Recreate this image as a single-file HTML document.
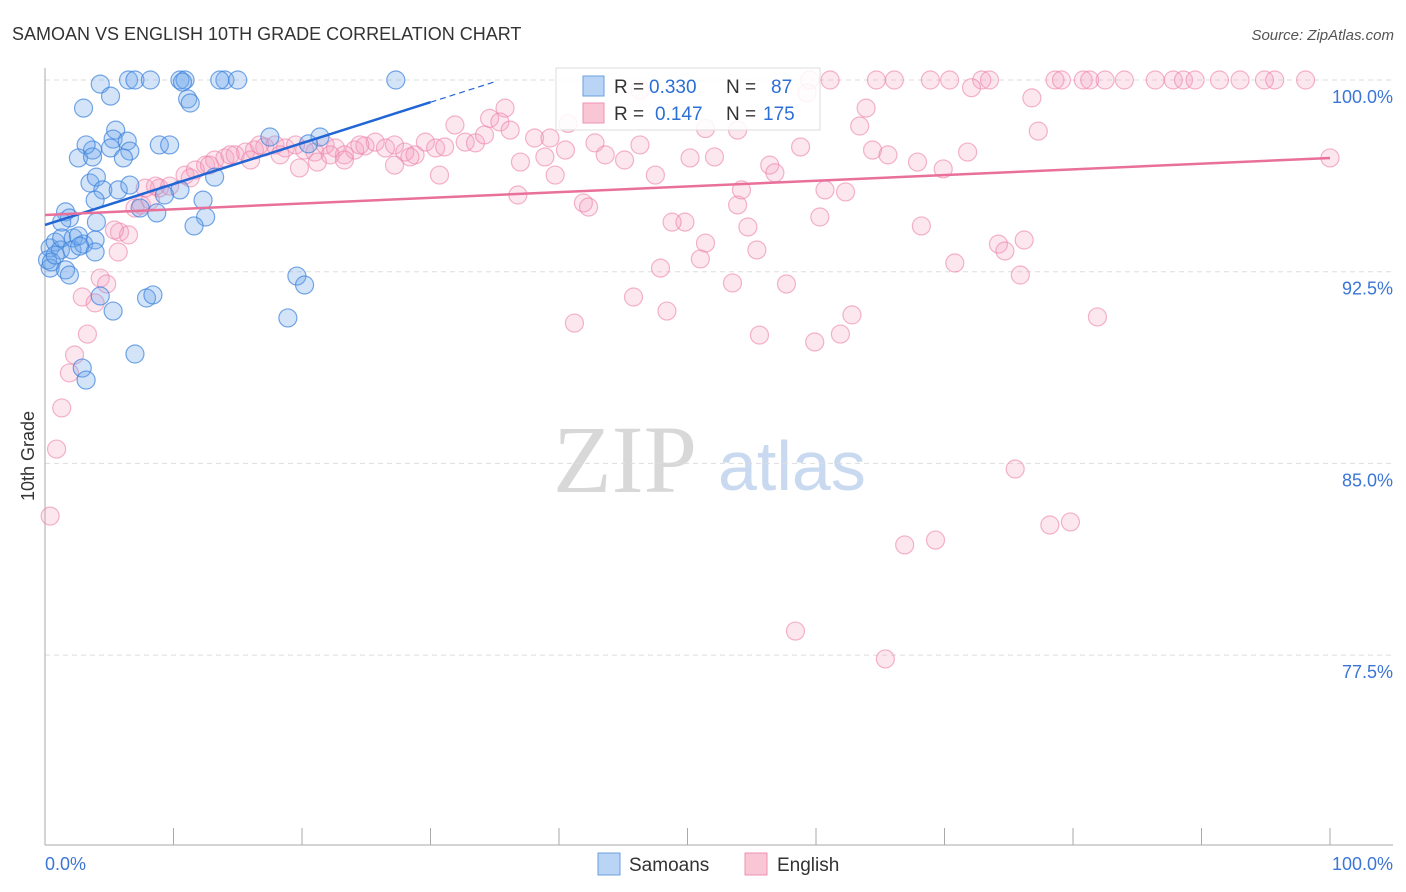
<!DOCTYPE html>
<html><head><meta charset="utf-8">
<style>
body{margin:0;background:#fff;font-family:"Liberation Sans",sans-serif;}
svg{display:block}
</style></head>
<body>
<svg id="chart" width="1406" height="892" xmlns="http://www.w3.org/2000/svg">
<text x="12" y="40" font-size="18" fill="#333">SAMOAN VS ENGLISH 10TH GRADE CORRELATION CHART</text>
<text x="1394" y="40" font-size="15" fill="#555" text-anchor="end" font-style="italic">Source: ZipAtlas.com</text>
<g>
<text x="553" y="492" font-size="96" font-family="Liberation Serif,serif" fill="#d8d8d8">ZIP</text>
<text x="718" y="490" font-size="70" fill="#c9daf0">atlas</text>
</g>
<g id="grid"></g>
<g id="axes"></g>
<g id="points"></g>
<g id="trends"></g>
<g>
<rect x="556" y="68" width="264" height="62" fill="#fff" fill-opacity="0.85" stroke="#ddd"/>
<rect x="583" y="76" width="21" height="20" fill="#b9d4f5" stroke="#6a9fe0"/>
<g font-size="19">
<text x="614" y="93" fill="#333">R =</text>
<text x="649" y="93" fill="#2c6fd6">0.330</text>
<text x="726" y="93" fill="#333">N =</text>
<text x="771" y="93" fill="#2c6fd6">87</text>
</g>
<rect x="583" y="103" width="21" height="20" fill="#f9c6d6" stroke="#ee93b2"/>
<g font-size="19">
<text x="614" y="120" fill="#333">R =</text>
<text x="655" y="120" fill="#2c6fd6">0.147</text>
<text x="726" y="120" fill="#333">N =</text>
<text x="763" y="120" fill="#2c6fd6">175</text>
</g>
</g>
<g>
<rect x="598" y="853" width="22" height="22" fill="#b9d4f5" stroke="#6a9fe0"/>
<text x="629" y="871" font-size="19" fill="#333">Samoans</text>
<rect x="745" y="853" width="22" height="22" fill="#f9c6d6" stroke="#ee93b2"/>
<text x="777" y="871" font-size="19" fill="#333">English</text>
</g>
<text x="34" y="456" font-size="18" fill="#333" transform="rotate(-90 34 456)" text-anchor="middle">10th Grade</text>
</svg>
<script>
const yTicks=[100,92.5,85,77.5];
const yTickLabels=["100.0%","92.5%","85.0%","77.5%"];
const xTickLabels=["0.0%","100.0%"];
const samoanX=[4.3,6.5,7.0,8.2,10.5,10.9,14.0,15.0,27.3,3.0,5.1,11.1,11.3,5.5,5.3,6.4,5.1,6.6,3.7,3.2,2.6,3.7,6.1,8.9,9.7,17.5,21.4,20.5,3.5,4.0,4.5,5.7,6.6,3.9,7.4,12.3,10.5,9.3,13.2,1.6,1.9,1.3,4.0,12.5,11.6,8.7,0.4,0.8,1.2,1.3,2.2,2.1,3.0,3.9,2.6,0.2,0.4,0.5,0.8,1.6,1.9,2.7,3.9,4.3,5.3,7.9,8.4,7.0,2.9,3.2,19.6,20.2,18.9,13.6,10.7];
const samoanY=[99.84,100,100,100,100,100,100,100,100,98.9,99.37,99.26,99.1,98.04,97.69,97.61,97.34,97.22,97.26,97.46,96.95,96.99,96.95,97.46,97.46,97.77,97.77,97.5,95.97,96.2,95.7,95.7,95.89,95.3,94.99,95.3,95.7,95.5,96.2,94.84,94.6,94.44,94.44,94.64,94.29,94.8,93.43,93.66,93.35,93.82,93.82,93.35,93.58,93.74,93.9,92.96,92.64,92.88,93.15,92.57,92.37,93.5,93.27,91.55,90.96,91.47,91.59,89.28,88.73,88.26,92.33,91.98,90.69,100,99.92];
const englishX=[59.5,61.1,64.7,66.1,68.9,70.4,72.9,73.5,78.6,79.1,80.8,81.3,82.5,84.0,86.4,87.8,88.6,89.5,91.4,93.0,94.9,95.7,98.1,59.3,72.1,76.8,63.9,46.3,63.4,77.3,51.4,40.7,34.6,35.8,
8.9,9.7,10.9,11.7,12.5,13.2,14.0,14.8,15.6,16.3,17.1,17.9,18.7,19.5,20.2,21.0,21.8,22.6,23.3,24.1,24.9,25.7,26.5,27.2,28.0,28.8,29.6,30.4,31.1,31.9,32.7,33.5,34.2,35.4,36.2,37.0,38.1,38.9,39.3,39.7,40.5,42.8,43.6,45.1,46.3,47.5,50.2,52.1,53.9,56.4,56.8,58.8,60.7,62.3,64.4,65.6,67.9,69.9,71.8,19.8,21.2,11.3,12.8,14.4,16.0,16.7,18.3,22.2,23.3,24.5,27.2,28.4,30.7,36.8,41.9,42.3,49.8,51.4,53.9,54.2,54.7,55.4,48.8,60.3,68.2,74.2,74.7,76.2,47.9,51.0,53.5,57.7,45.8,48.4,62.8,41.2,55.6,59.9,61.9,70.8,75.9,81.9,100,
7.0,7.5,8.2,5.8,6.5,5.7,4.3,4.8,2.9,3.9,3.3,2.3,1.9,1.3,0.9,0.4,7.8,8.6,5.4,75.5,78.2,79.8,66.9,69.3,58.4,65.4];
const englishY=[100,100,100,100,100,100,100,100,100,100,100,100,100,100,100,100,100,100,100,100,100,100,100,99.5,99.7,99.3,98.9,99.6,98.2,98.0,98.1,98.3,98.5,98.9,
95.77,95.85,96.28,96.48,96.67,96.87,96.95,97.07,97.18,97.26,97.38,97.46,97.34,97.46,97.26,97.18,97.46,97.34,97.07,97.26,97.42,97.57,97.34,97.46,97.18,97.07,97.57,97.34,97.38,98.24,97.57,97.54,97.85,98.36,98.04,96.79,97.73,96.99,97.73,96.28,97.26,97.54,97.07,96.87,97.46,96.28,96.95,96.99,98.04,96.67,96.37,97.38,95.7,95.62,97.26,97.07,96.79,96.52,97.18,96.56,96.79,96.17,96.67,97.07,96.87,97.46,97.07,97.07,96.87,97.46,96.67,96.99,96.28,95.5,95.19,95.03,94.44,93.62,95.11,95.7,94.25,93.35,94.44,94.64,94.29,93.58,93.31,93.74,92.64,93.0,92.06,92.02,91.51,90.96,90.81,90.49,90.02,89.75,90.06,92.84,92.37,90.73,96.95,
94.99,95.11,95.3,94.05,93.94,93.27,92.25,92.02,91.51,91.28,90.06,89.24,88.54,87.17,85.56,82.94,95.77,95.85,94.13,84.78,82.59,82.71,81.81,82.0,78.44,77.35];
const samoanTrend=[94.33,0.16,0,30,35];
const englishTrend=[94.72,0.0223,0,100];
const L=45,R=1330,T=80,B=845;
const ymin=70.07,ymax=100;
const sx=v=>L+(v/100)*(R-L);
const sy=v=>T+(ymax-v)/(ymax-ymin)*(B-T);
const NS="http://www.w3.org/2000/svg";
function mk(tag,attrs,parent){const e=document.createElementNS(NS,tag);for(const k in attrs)e.setAttribute(k,attrs[k]);parent.appendChild(e);return e;}
const grid=document.getElementById('grid'),axes=document.getElementById('axes'),pts=document.getElementById('points'),tr=document.getElementById('trends');
yTicks.forEach((t,i)=>{
 const y=sy(t);
 const g=mk('line',{x1:L,x2:1393,y1:y,y2:y,stroke:'#ddd','stroke-dasharray':'5,4'},grid);
 
 
 const tx=mk('text',{x:1393,y:y+23,'font-size':18,fill:'#3b76d6','text-anchor':'end'},axes);
 tx.textContent=yTickLabels[i];
 
 
});
const ax=mk('line',{x1:L,x2:L,y1:68,y2:B,stroke:'#aaa'},axes);


const bx=mk('line',{x1:L,x2:1393,y1:B,y2:B,stroke:'#aaa'},axes);


for(let i=0;i<=10;i++){
 const x=sx(i*10);
 const t=mk('line',{x1:x,x2:x,y1:828,y2:B,stroke:'#aaa'},axes);
 
 
}
const xl0=mk('text',{x:45,y:870,'font-size':18,fill:'#3b76d6'},axes);
xl0.textContent=xTickLabels[0];


const xl1=mk('text',{x:1393,y:870,'font-size':18,fill:'#3b76d6','text-anchor':'end'},axes);
xl1.textContent=xTickLabels[1];


englishX.forEach((v,i)=>{
 const c=mk('circle',{cx:sx(v),cy:sy(englishY[i]),r:9,fill:'rgba(245,160,190,0.25)',stroke:'rgba(236,130,168,0.6)','stroke-width':1.2},pts);
 
 
});
samoanX.forEach((v,i)=>{
 const c=mk('circle',{cx:sx(v),cy:sy(samoanY[i]),r:9,fill:'rgba(110,165,235,0.3)',stroke:'rgba(60,130,220,0.7)','stroke-width':1.2},pts);
 
 
});
const ln=(p,a)=>p[0]+p[1]*a;
const s1=mk('line',{x1:sx(samoanTrend[2]),y1:sy(ln(samoanTrend,samoanTrend[2])),x2:sx(samoanTrend[3]),y2:sy(ln(samoanTrend,samoanTrend[3])),stroke:'#2166d4','stroke-width':2.5},tr);


const s2=mk('line',{x1:sx(samoanTrend[3]),y1:sy(ln(samoanTrend,samoanTrend[3])),x2:sx(samoanTrend[4]),y2:sy(ln(samoanTrend,samoanTrend[4])),stroke:'#2166d4','stroke-width':1.2,'stroke-dasharray':'6,4'},tr);


const e1=mk('line',{x1:sx(englishTrend[2]),y1:sy(ln(englishTrend,englishTrend[2])),x2:sx(englishTrend[3]),y2:sy(ln(englishTrend,englishTrend[3])),stroke:'#e8709a','stroke-width':2.5},tr);


</script>
</body></html>
